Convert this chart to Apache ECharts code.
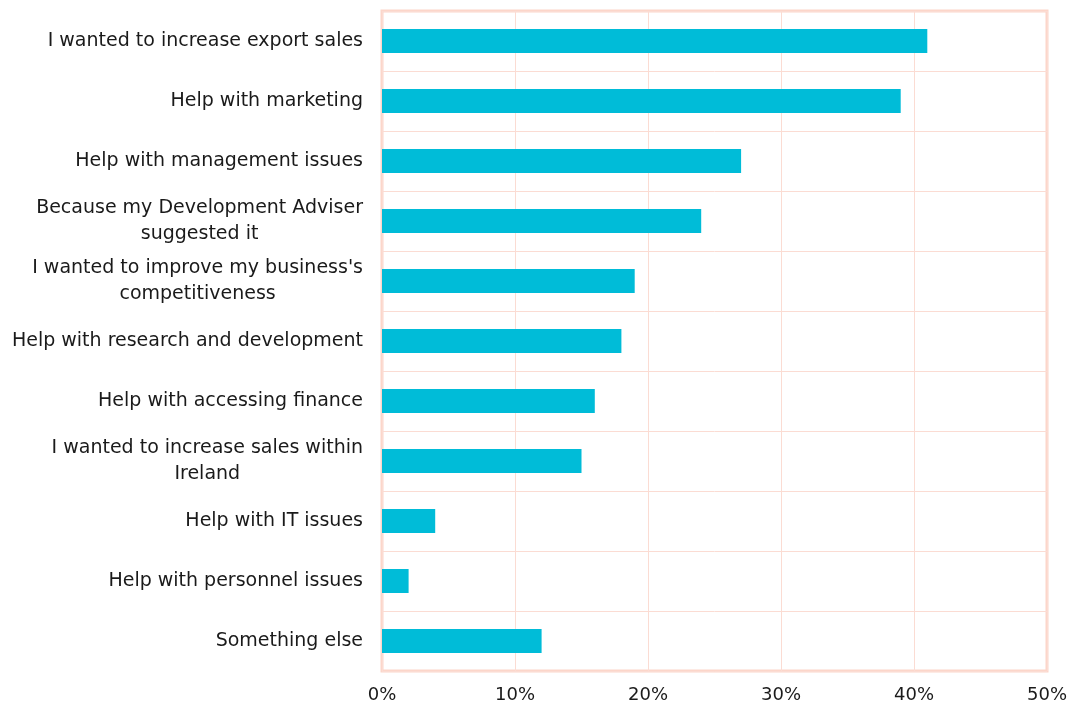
<!DOCTYPE html>
<html>
<head>
<meta charset="utf-8">
<script src="https://cdn.jsdelivr.net/npm/echarts@6/dist/echarts.min.js"></script>
<style>
  html, body { margin: 0; padding: 0; background: #ffffff; }
  #chart { width: 1068px; height: 709px; }
</style>
</head>
<body>
<div id="chart"></div>
<script>
// Reasons for taking part, share of respondents (%)
const categories = [
  'I wanted to increase export sales',
  'Help with marketing',
  'Help with management issues',
  'Because my Development Adviser\nsuggested it',
  "I wanted to improve my business's\ncompetitiveness",
  'Help with research and development',
  'Help with accessing finance',
  'I wanted to increase sales within\nIreland',
  'Help with IT issues',
  'Help with personnel issues',
  'Something else'
];
const shares = [41, 39, 27, 24, 19, 18, 16, 15, 4, 2, 12];
const xTicks = [0, 10, 20, 30, 40, 50];

const FONT = '"DejaVu Sans", sans-serif';
const chart = echarts.init(document.getElementById('chart'));

chart.setOption({
  animation: false,
  grid: {
    left: 382, right: 21, top: 11, bottom: 38,
    show: true,
    borderColor: '#fcd6ca',
    borderWidth: 3,
    containLabel: false,
    outerBoundsMode: 'none'
  },
  xAxis: {
    type: 'value',
    min: xTicks[0],
    max: xTicks[xTicks.length - 1],
    interval: xTicks[1] - xTicks[0],
    axisLine: { show: false },
    axisTick: { show: false },
    splitLine: { show: true, lineStyle: { color: '#fbdcd3', width: 1 } },
    axisLabel: {
      margin: 15,
      color: '#1a1a1a',
      fontFamily: FONT,
      fontSize: 18,
      formatter: v => v + '%'
    }
  },
  yAxis: {
    type: 'category',
    data: categories,
    inverse: true,
    axisLine: { show: false },
    axisTick: { show: false },
    splitLine: { show: true, lineStyle: { color: '#fbdcd3', width: 1 } },
    axisLabel: {
      margin: 19,
      color: '#1a1a1a',
      fontFamily: FONT,
      fontSize: 19,
      lineHeight: 26,
      formatter: v => v.split('\n').map(s => '{c|' + s + '}').join('\n'),
      rich: {
        c: { align: 'center', fontFamily: FONT, fontSize: 19, lineHeight: 26, color: '#1a1a1a' }
      }
    }
  },
  series: [{
    type: 'bar',
    data: shares,
    barWidth: 24,
    itemStyle: { color: '#00bcd8' }
  }]
});
</script>
</body>
</html>
